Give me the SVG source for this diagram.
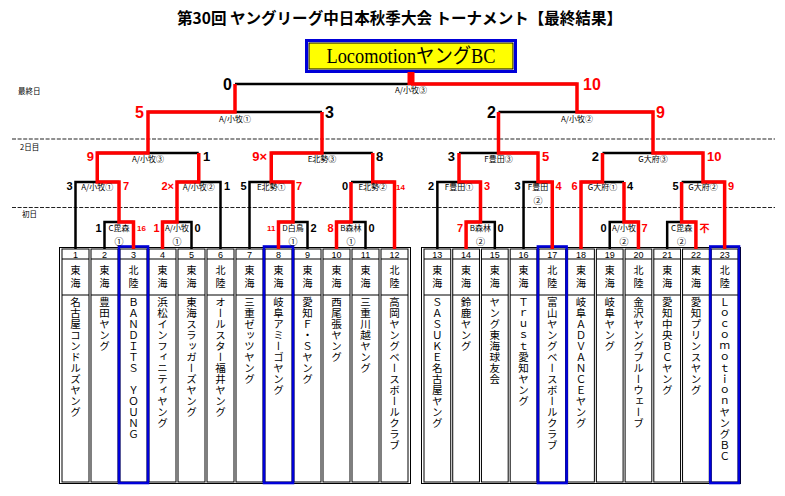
<svg xmlns="http://www.w3.org/2000/svg" width="785" height="496" viewBox="0 0 785 496">
<style>
.bg{fill:#fff}
.k{stroke:#000;stroke-width:2.5;fill:none;stroke-linejoin:miter}
.r{stroke:#f00;stroke-width:3.5;fill:none;stroke-linejoin:miter}
.dash{stroke:#222;stroke-width:1.2;stroke-dasharray:4 1.6}
.cell{fill:#fff;stroke:#000;stroke-width:1}
.hl{fill:none;stroke:#0000d8;stroke-width:2.6}
.sc{font-family:"Liberation Sans","Noto Sans CJK JP",sans-serif;font-weight:bold}
.s1{font-size:16px}
.s2{font-size:13px}
.s3{font-size:11px}
.s4{font-size:8px}
.red{fill:#f00}
.blk{fill:#000}
.end{text-anchor:end}
.v{font-family:"Noto Sans CJK JP",sans-serif;font-size:8px;text-anchor:middle;fill:#000}
.day{font-family:"Noto Sans CJK JP",sans-serif;font-size:7.5px;fill:#000}
.num{font-family:"Liberation Sans",sans-serif;font-size:9px;text-anchor:middle;fill:#000}
.reg{font-family:"Noto Sans CJK JP",sans-serif;font-size:10px;writing-mode:vertical-rl;letter-spacing:2.5px;fill:#000}
.nm{font-family:"Noto Sans CJK JP",sans-serif;font-size:10.5px;writing-mode:vertical-rl;letter-spacing:0.5px;fill:#000}
</style>
<rect class="bg" x="0" y="0" width="785" height="496"/>

<text x="399.5" y="24" text-anchor="middle" textLength="445" lengthAdjust="spacingAndGlyphs" style="font-family:'Noto Sans CJK JP',sans-serif;font-weight:bold;font-size:15.5px">第30回 ヤングリーグ中日本秋季大会 トーナメント【最終結果】</text>

<g id="champion">
<rect x="305" y="39" width="212" height="34" fill="#0000d8"/>
<rect x="308" y="42" width="206" height="28" fill="#fff"/>
<rect x="309" y="43" width="204" height="26" fill="#ff0" stroke="#000" stroke-width="1"/>
<text x="411" y="63" text-anchor="middle" textLength="169" lengthAdjust="spacingAndGlyphs" style="font-family:'Liberation Serif','Noto Sans CJK JP',serif;font-size:20px">LocomotionヤングBC</text>
</g>

<g id="days">
<line class="dash" x1="12" y1="139" x2="775" y2="139"/>
<line class="dash" x1="12" y1="207.5" x2="775" y2="207.5"/>
<text class="day" x="18" y="94">最終日</text>
<text class="day" x="20" y="150">2日目</text>
<text class="day" x="22" y="217">初日</text>
</g>

<g id="table">
<rect x="59.5" y="247.5" width="351" height="236" fill="#fff" stroke="#000" stroke-width="1"/>
<rect x="421.5" y="247.5" width="319" height="236" fill="#fff" stroke="#000" stroke-width="1"/>
</g>

<g id="teams">
<g id="t1"><rect class="cell" x="62" y="249" width="27" height="233"/><line x1="62" y1="259" x2="89" y2="259" stroke="#000"/><line x1="62" y1="295" x2="89" y2="295" stroke="#000"/><text class="num" x="75.5" y="257.5">1</text><text class="reg" x="75.5" y="265.5">東海</text><text class="nm" x="75.5" y="297">名古屋コンドルズヤング</text></g>
<g id="t2"><rect class="cell" x="91" y="249" width="27" height="233"/><line x1="91" y1="259" x2="118" y2="259" stroke="#000"/><line x1="91" y1="295" x2="118" y2="295" stroke="#000"/><text class="num" x="104.5" y="257.5">2</text><text class="reg" x="104.5" y="265.5">東海</text><text class="nm" x="104.5" y="297">豊田ヤング</text></g>
<g id="t3"><rect class="cell" x="120" y="249" width="27" height="233"/><line x1="120" y1="259" x2="147" y2="259" stroke="#000"/><line x1="120" y1="295" x2="147" y2="295" stroke="#000"/><text class="num" x="133.5" y="257.5">3</text><text class="reg" x="133.5" y="265.5">北陸</text><text class="nm" x="133.5" y="297">ＢＡＮＤＩＴＳ　ＹＯＵＮＧ</text></g>
<g id="t4"><rect class="cell" x="149" y="249" width="27" height="233"/><line x1="149" y1="259" x2="176" y2="259" stroke="#000"/><line x1="149" y1="295" x2="176" y2="295" stroke="#000"/><text class="num" x="162.5" y="257.5">4</text><text class="reg" x="162.5" y="265.5">東海</text><text class="nm" x="162.5" y="297">浜松インフィニティヤング</text></g>
<g id="t5"><rect class="cell" x="178" y="249" width="27" height="233"/><line x1="178" y1="259" x2="205" y2="259" stroke="#000"/><line x1="178" y1="295" x2="205" y2="295" stroke="#000"/><text class="num" x="191.5" y="257.5">5</text><text class="reg" x="191.5" y="265.5">東海</text><text class="nm" x="191.5" y="297">東海スラッガーズヤング</text></g>
<g id="t6"><rect class="cell" x="207" y="249" width="27" height="233"/><line x1="207" y1="259" x2="234" y2="259" stroke="#000"/><line x1="207" y1="295" x2="234" y2="295" stroke="#000"/><text class="num" x="220.5" y="257.5">6</text><text class="reg" x="220.5" y="265.5">北陸</text><text class="nm" x="220.5" y="297">オールスター福井ヤング</text></g>
<g id="t7"><rect class="cell" x="236" y="249" width="27" height="233"/><line x1="236" y1="259" x2="263" y2="259" stroke="#000"/><line x1="236" y1="295" x2="263" y2="295" stroke="#000"/><text class="num" x="249.5" y="257.5">7</text><text class="reg" x="249.5" y="265.5">東海</text><text class="nm" x="249.5" y="297">三重ゼッツヤング</text></g>
<g id="t8"><rect class="cell" x="265" y="249" width="27" height="233"/><line x1="265" y1="259" x2="292" y2="259" stroke="#000"/><line x1="265" y1="295" x2="292" y2="295" stroke="#000"/><text class="num" x="278.5" y="257.5">8</text><text class="reg" x="278.5" y="265.5">東海</text><text class="nm" x="278.5" y="297">岐阜アミーゴヤング</text></g>
<g id="t9"><rect class="cell" x="294" y="249" width="27" height="233"/><line x1="294" y1="259" x2="321" y2="259" stroke="#000"/><line x1="294" y1="295" x2="321" y2="295" stroke="#000"/><text class="num" x="307.5" y="257.5">9</text><text class="reg" x="307.5" y="265.5">東海</text><text class="nm" x="307.5" y="297">愛知Ｆ・Ｓヤング</text></g>
<g id="t10"><rect class="cell" x="323" y="249" width="27" height="233"/><line x1="323" y1="259" x2="350" y2="259" stroke="#000"/><line x1="323" y1="295" x2="350" y2="295" stroke="#000"/><text class="num" x="336.5" y="257.5">10</text><text class="reg" x="336.5" y="265.5">東海</text><text class="nm" x="336.5" y="297">西尾張ヤング</text></g>
<g id="t11"><rect class="cell" x="352" y="249" width="27" height="233"/><line x1="352" y1="259" x2="379" y2="259" stroke="#000"/><line x1="352" y1="295" x2="379" y2="295" stroke="#000"/><text class="num" x="365.5" y="257.5">11</text><text class="reg" x="365.5" y="265.5">東海</text><text class="nm" x="365.5" y="297">三重川越ヤング</text></g>
<g id="t12"><rect class="cell" x="381" y="249" width="27" height="233"/><line x1="381" y1="259" x2="408" y2="259" stroke="#000"/><line x1="381" y1="295" x2="408" y2="295" stroke="#000"/><text class="num" x="394.5" y="257.5">12</text><text class="reg" x="394.5" y="265.5">北陸</text><text class="nm" x="394.5" y="297">高岡ヤングベースボールクラブ</text></g>
<g id="t13"><rect class="cell" x="424" y="249" width="26.73" height="233"/><line x1="424" y1="259" x2="450.73" y2="259" stroke="#000"/><line x1="424" y1="295" x2="450.73" y2="295" stroke="#000"/><text class="num" x="437.36" y="257.5">13</text><text class="reg" x="437.36" y="265.5">東海</text><text class="nm" x="437.36" y="297">ＳＡＳＵＫＥ名古屋ヤング</text></g>
<g id="t14"><rect class="cell" x="452.73" y="249" width="26.73" height="233"/><line x1="452.73" y1="259" x2="479.45" y2="259" stroke="#000"/><line x1="452.73" y1="295" x2="479.45" y2="295" stroke="#000"/><text class="num" x="466.09" y="257.5">14</text><text class="reg" x="466.09" y="265.5">東海</text><text class="nm" x="466.09" y="297">鈴鹿ヤング</text></g>
<g id="t15"><rect class="cell" x="481.45" y="249" width="26.73" height="233"/><line x1="481.45" y1="259" x2="508.18" y2="259" stroke="#000"/><line x1="481.45" y1="295" x2="508.18" y2="295" stroke="#000"/><text class="num" x="494.82" y="257.5">15</text><text class="reg" x="494.82" y="265.5">東海</text><text class="nm" x="494.82" y="297">ヤング東海球友会</text></g>
<g id="t16"><rect class="cell" x="510.18" y="249" width="26.73" height="233"/><line x1="510.18" y1="259" x2="536.91" y2="259" stroke="#000"/><line x1="510.18" y1="295" x2="536.91" y2="295" stroke="#000"/><text class="num" x="523.55" y="257.5">16</text><text class="reg" x="523.55" y="265.5">東海</text><text class="nm" x="523.55" y="297">Ｔｒｕｓｔ愛知ヤング</text></g>
<g id="t17"><rect class="cell" x="538.91" y="249" width="26.73" height="233"/><line x1="538.91" y1="259" x2="565.64" y2="259" stroke="#000"/><line x1="538.91" y1="295" x2="565.64" y2="295" stroke="#000"/><text class="num" x="552.27" y="257.5">17</text><text class="reg" x="552.27" y="265.5">北陸</text><text class="nm" x="552.27" y="297">富山ヤングベースボールクラブ</text></g>
<g id="t18"><rect class="cell" x="567.64" y="249" width="26.73" height="233"/><line x1="567.64" y1="259" x2="594.36" y2="259" stroke="#000"/><line x1="567.64" y1="295" x2="594.36" y2="295" stroke="#000"/><text class="num" x="581" y="257.5">18</text><text class="reg" x="581" y="265.5">東海</text><text class="nm" x="581" y="297">岐阜ＡＤＶＡＮＣＥヤング</text></g>
<g id="t19"><rect class="cell" x="596.36" y="249" width="26.73" height="233"/><line x1="596.36" y1="259" x2="623.09" y2="259" stroke="#000"/><line x1="596.36" y1="295" x2="623.09" y2="295" stroke="#000"/><text class="num" x="609.73" y="257.5">19</text><text class="reg" x="609.73" y="265.5">東海</text><text class="nm" x="609.73" y="297">岐阜ヤング</text></g>
<g id="t20"><rect class="cell" x="625.09" y="249" width="26.73" height="233"/><line x1="625.09" y1="259" x2="651.82" y2="259" stroke="#000"/><line x1="625.09" y1="295" x2="651.82" y2="295" stroke="#000"/><text class="num" x="638.45" y="257.5">20</text><text class="reg" x="638.45" y="265.5">北陸</text><text class="nm" x="638.45" y="297">金沢ヤングブルーウェーブ</text></g>
<g id="t21"><rect class="cell" x="653.82" y="249" width="26.73" height="233"/><line x1="653.82" y1="259" x2="680.55" y2="259" stroke="#000"/><line x1="653.82" y1="295" x2="680.55" y2="295" stroke="#000"/><text class="num" x="667.18" y="257.5">21</text><text class="reg" x="667.18" y="265.5">東海</text><text class="nm" x="667.18" y="297">愛知中央ＢＣヤング</text></g>
<g id="t22"><rect class="cell" x="682.55" y="249" width="26.73" height="233"/><line x1="682.55" y1="259" x2="709.27" y2="259" stroke="#000"/><line x1="682.55" y1="295" x2="709.27" y2="295" stroke="#000"/><text class="num" x="695.91" y="257.5">22</text><text class="reg" x="695.91" y="265.5">東海</text><text class="nm" x="695.91" y="297">愛知プリンスヤング</text></g>
<g id="t23"><rect class="cell" x="711.27" y="249" width="26.73" height="233"/><line x1="711.27" y1="259" x2="738" y2="259" stroke="#000"/><line x1="711.27" y1="295" x2="738" y2="295" stroke="#000"/><text class="num" x="724.64" y="257.5">23</text><text class="reg" x="724.64" y="265.5">北陸</text><text class="nm" x="724.64" y="297">ＬｏｃｏｍｏｔｉｏｎヤングＢＣ</text></g>
<rect class="hl" x="119" y="246.5" width="29" height="236.5"/>
<rect class="hl" x="264" y="246.5" width="29" height="236.5"/>
<rect class="hl" x="537.9" y="246.5" width="28.7" height="236.5"/>
<rect class="hl" x="710.3" y="246.5" width="28.7" height="236.5"/>
</g>

<g id="connectors">
<path class="k" d="M235 84H577 M148 112H322 M498.5 112H653 M97.25 153H198.75 M271.25 153H372.75 M459 153H538 M602.5 153H703 M75.5 249V182H119 M177 182H220.5V249 M249.5 249V182H293 M351 182H394.5 M437.36 249V182H480.5 M523.55 249V182H552.27 M581 182H624 M681.6 182H724.64 M104.5 249V222H133.5 M162.5 222H191.5V249 M278.5 222H307.5V249 M336.5 222H365.5V249 M466.09 222H494.82V249 M609.73 249V222H638.45 M667.18 249V222H695.91"/>
<path class="r" d="M724.64 249V182H703V153H653V112H577V84H411"/>
<path class="r" d="M133.5 249V222H119V182H97.25V153H148V112H235V84"/>
<path class="r" d="M278.5 249V222H293V182H271.25V153H322V112"/>
<path class="r" d="M552.27 249V182H538V153H498.5V112"/>
<path class="r" d="M162.5 249V222H177V182H198.75V153"/>
<path class="r" d="M394.5 249V182H372.75V153"/>
<path class="r" d="M466.09 249V222H480.5V182H459V153"/>
<path class="r" d="M581 249V182H602.5V153"/>
<path class="r" d="M336.5 249V222H351V182"/>
<path class="r" d="M638.45 249V222H624V182"/>
<path class="r" d="M695.91 249V222H681.6V182"/>
<rect x="407.5" y="72" width="7" height="13" fill="#f00"/>
</g>

<g id="labels">
<text class="v" x="411" y="93">A/小牧③</text>
<text class="v" x="235" y="122">A/小牧①</text>
<text class="v" x="577" y="122">A/小牧②</text>
<text class="v" x="148" y="162">A/小牧③</text>
<text class="v" x="322" y="162">E北勢③</text>
<text class="v" x="498.5" y="162">F豊田③</text>
<text class="v" x="653" y="162">G大府③</text>
<text class="v" x="97.25" y="190">A/小牧①</text>
<text class="v" x="198.75" y="190">A/小牧②</text>
<text class="v" x="271.25" y="190">E北勢①</text>
<text class="v" x="372.75" y="190">E北勢②</text>
<text class="v" x="459" y="190">F豊田①</text>
<text class="v" x="538" y="190">F豊田<tspan x="538" y="204" style="font-size:9px">②</tspan></text>
<text class="v" x="602.5" y="190">G大府①</text>
<text class="v" x="703" y="190">G大府②</text>
<text class="v" x="119" y="231">C毘森<tspan x="119" y="245" style="font-size:9px">①</tspan></text>
<text class="v" x="177" y="231">A/小牧<tspan x="177" y="245" style="font-size:9px">①</tspan></text>
<text class="v" x="293" y="231">D白鳥<tspan x="293" y="245" style="font-size:9px">①</tspan></text>
<text class="v" x="351" y="231">B森林<tspan x="351" y="245" style="font-size:9px">①</tspan></text>
<text class="v" x="480.5" y="231">B森林<tspan x="480.5" y="245" style="font-size:9px">②</tspan></text>
<text class="v" x="624" y="231">A/小牧<tspan x="624" y="245" style="font-size:9px">②</tspan></text>
<text class="v" x="681.6" y="231">C毘森<tspan x="681.6" y="245" style="font-size:9px">②</tspan></text>
</g>

<g id="scores">
<text class="sc s1 blk end" x="232" y="90">0</text>
<text class="sc s1 red" x="583" y="90">10</text>
<text class="sc s1 red end" x="144" y="118">5</text>
<text class="sc s1 blk" x="325" y="118">3</text>
<text class="sc s1 blk end" x="496" y="118">2</text>
<text class="sc s1 red" x="656" y="118">9</text>

<text class="sc s2 red end" x="94" y="161">9</text>
<text class="sc s2 blk" x="203" y="161">1</text>
<text class="sc s2 red end" x="267" y="161">9×</text>
<text class="sc s2 blk" x="376" y="161">8</text>
<text class="sc s2 blk end" x="455" y="161">3</text>
<text class="sc s2 red" x="542" y="161">5</text>
<text class="sc s2 blk end" x="599" y="161">2</text>
<text class="sc s2 red" x="707" y="161">10</text>

<text class="sc s3 blk end" x="72.5" y="190">3</text>
<text class="sc s3 red" x="123" y="190">7</text>
<text class="sc s3 red end" x="174" y="190">2×</text>
<text class="sc s3 blk" x="224" y="190">1</text>
<text class="sc s3 blk end" x="246.5" y="190">5</text>
<text class="sc s3 red" x="296" y="190">7</text>
<text class="sc s3 blk end" x="348" y="190">0</text>
<text class="sc s4 red" x="396" y="190">14</text>
<text class="sc s3 blk end" x="434" y="190">2</text>
<text class="sc s3 red" x="484" y="190">3</text>
<text class="sc s3 blk end" x="520.5" y="190">3</text>
<text class="sc s3 red" x="555.5" y="190">4</text>
<text class="sc s3 red end" x="577.5" y="190">6</text>
<text class="sc s3 blk" x="627" y="190">4</text>
<text class="sc s3 blk end" x="678.5" y="190">5</text>
<text class="sc s3 red" x="728" y="190">9</text>

<text class="sc s3 blk end" x="101.5" y="232">1</text>
<text class="sc s4 red" x="137" y="231">16</text>
<text class="sc s3 red end" x="159.5" y="232">1</text>
<text class="sc s3 blk" x="194.5" y="232">0</text>
<text class="sc s4 red end" x="275.5" y="231">11</text>
<text class="sc s3 blk" x="310.5" y="232">2</text>
<text class="sc s3 red end" x="333.5" y="232">8</text>
<text class="sc s3 blk" x="368.5" y="232">0</text>
<text class="sc s3 red end" x="463" y="232">7</text>
<text class="sc s3 blk" x="497.5" y="232">0</text>
<text class="sc s3 blk end" x="606.5" y="232">0</text>
<text class="sc s3 red" x="641.5" y="232">7</text>
<text class="sc s3 red" x="699.5" y="232" style="font-size:10px">不</text>
</g>
</svg>
